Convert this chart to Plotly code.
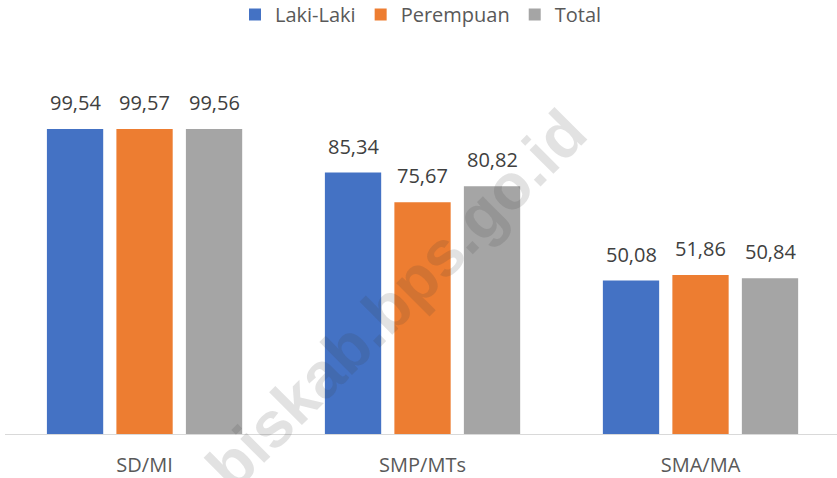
import plotly.graph_objects as go

categories = ["SD/MI", "SMP/MTs", "SMA/MA"]
laki = [99.54, 85.34, 50.08]
perempuan = [99.57, 75.67, 51.86]
total = [99.56, 80.82, 50.84]
series_names = ["Laki-Laki", "Perempuan", "Total"]
colors = ["#4472C4", "#ED7D31", "#A5A5A5"]

def fmt(v):
    return f"{v:.2f}".replace(".", ",")

FONT = "Open Sans, Noto Sans, sans-serif"
BARGAP = 0.25
NSER = len(series_names)

fig = go.Figure()
for name, vals, col in zip(series_names, [laki, perempuan, total], colors):
    fig.add_trace(go.Bar(
        x=list(range(len(categories))), y=vals, name=name, marker_color=col,
        marker_line_width=0,
    ))

# data labels placed above each bar (bar centre within its group slot)
slot = (1 - BARGAP) / NSER
for k, vals in enumerate([laki, perempuan, total]):
    for i, v in enumerate(vals):
        fig.add_annotation(
            x=i + (k - (NSER - 1) / 2) * slot, y=v, xref="x", yref="y",
            text=fmt(v), showarrow=False, xanchor="center", yanchor="bottom", yshift=11,
            font=dict(family=FONT, size=20, color="#404040"),
        )

L, R, T, B = 5, 0, 60, 44
W, H = 837, 478
fig.update_layout(
    width=W, height=H,
    margin=dict(l=L, r=R, t=T, b=B, autoexpand=False),
    paper_bgcolor="white", plot_bgcolor="white",
    barmode="group", bargap=BARGAP, bargroupgap=0.19,
    showlegend=True,
    legend=dict(orientation="h", x=0.5, xanchor="center",
                y=1 + (T + 5) / (H - T - B), yanchor="top", yref="paper",
                font=dict(family=FONT, size=20, color="#595959"),
                tracegroupgap=0),
    xaxis=dict(range=[-0.502, 2.491], showline=True, linecolor="#d9d9d9", linewidth=1,
               tickmode="array", tickvals=list(range(len(categories))), ticktext=categories,
               ticks="outside", ticklen=13, tickcolor="rgba(0,0,0,0)", automargin=False,
               tickfont=dict(family=FONT, size=20, color="#595959"), showgrid=False),
    yaxis=dict(range=[0, 122.06], visible=False, showgrid=False, automargin=False),
)

fig.add_annotation(
    text="biskab.bps.go.id",
    x=(396 - L) / (W - L - R), y=(H - B - 300) / (H - B - T),
    xref="x domain", yref="y domain", xanchor="center", yanchor="middle",
    showarrow=False, textangle=-45,
    font=dict(family="Liberation Sans, Arial", size=64, color="rgba(60,60,60,0.15)",
              weight="bold"),
)

fig.write_html("out.html", config={"displayModeBar": False},
               post_script="document.body.style.margin='0';")
